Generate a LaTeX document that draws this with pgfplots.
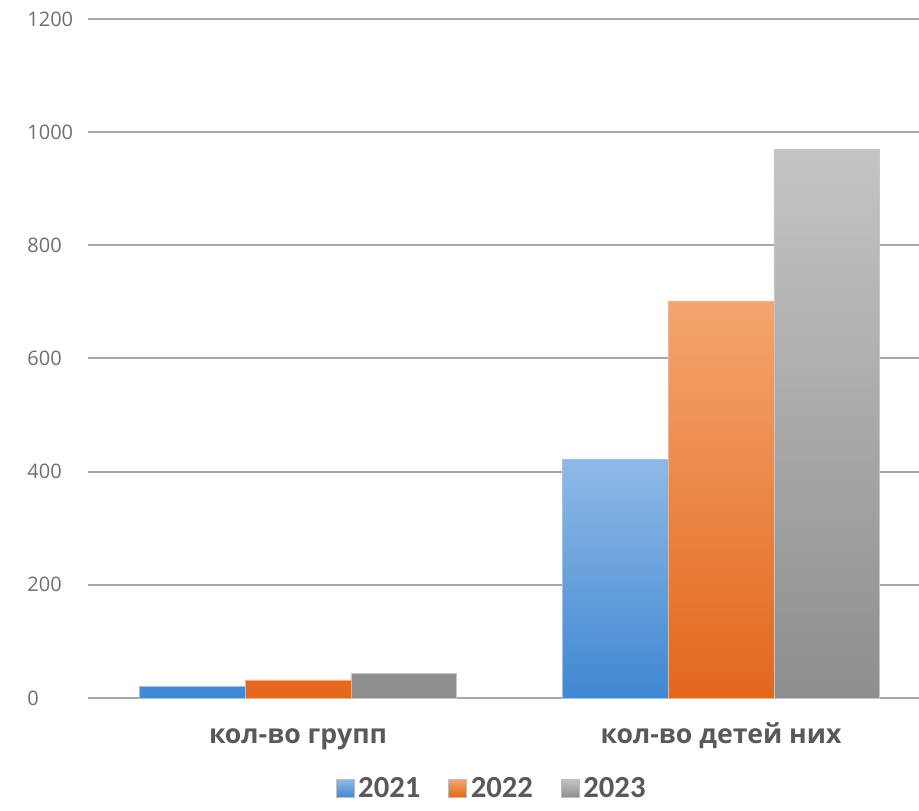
\documentclass[border=0pt]{standalone}
\usepackage{fontspec}
\setmainfont{Open Sans}
\newfontfamily\legfont{Carlito}
\usepackage{pgfplots}
\pgfplotsset{compat=1.18}
\definecolor{gridc}{HTML}{A8A8A8}
\definecolor{txt}{HTML}{595959}
\definecolor{tick}{HTML}{6E6E6E}
\definecolor{bT}{HTML}{8FB9E6}\definecolor{bB}{HTML}{3F88D2}
\definecolor{oT}{HTML}{F4A56E}\definecolor{oB}{HTML}{E2671C}
\definecolor{gT}{HTML}{C4C4C4}\definecolor{gB}{HTML}{8E8E8E}
\begin{document}
\begin{tikzpicture}
\useasboundingbox (-66pt,-84pt) rectangle (623.25pt,523.5pt);
\begin{axis}[
  scale only axis,
  width=623.25pt, height=509.25pt,
  ybar=0pt, bar width=0.25,
  xmin=-0.4965, xmax=1.468,
  ymin=0, ymax=1200,
  ytick={0,200,...,1200},
  xtick=data,
  xticklabels={кол-во групп, кол-во детей них},
  axis line style={draw=none},
  major tick length=0pt,
  ymajorgrids,
  grid style={gridc, line width=1.5pt},
  /pgf/number format/assume math mode=true,
  /pgf/number format/1000 sep={},
  yticklabel style={anchor=west, xshift=-49pt, font=\fontsize{15}{17}\selectfont, text=tick},
  xticklabel style={anchor=base, yshift=-33.75pt, font=\fontsize{20}{23}\selectfont\bfseries, text=txt},
  legend style={at={(0.487,-0.1330)}, anchor=center, draw=none, legend columns=-1,
    font=\legfont\fontsize{23}{25}\selectfont\bfseries, text=txt,
    nodes={inner xsep=3pt, inner ysep=1pt},
    /tikz/every even column/.append style={column sep=18pt}},
  legend image code/.code={\draw[#1, draw=gray!50, line width=0.3pt] (0pt,-6.75pt) rectangle (13.5pt,6.75pt);},
  clip=false,
]
\addplot[top color=bT, bottom color=bB, draw=bB!50!white, line width=0.4pt] coordinates {(0,20) (1,422)};
\addplot[top color=oT, bottom color=oB, draw=oB!50!white, line width=0.4pt] coordinates {(0,32) (1,702)};
\addplot[top color=gT, bottom color=gB, draw=gB!50!white, line width=0.4pt] coordinates {(0,44) (1,970)};
\legend{2021,2022,2023}
\end{axis}
\end{tikzpicture}
\end{document}
